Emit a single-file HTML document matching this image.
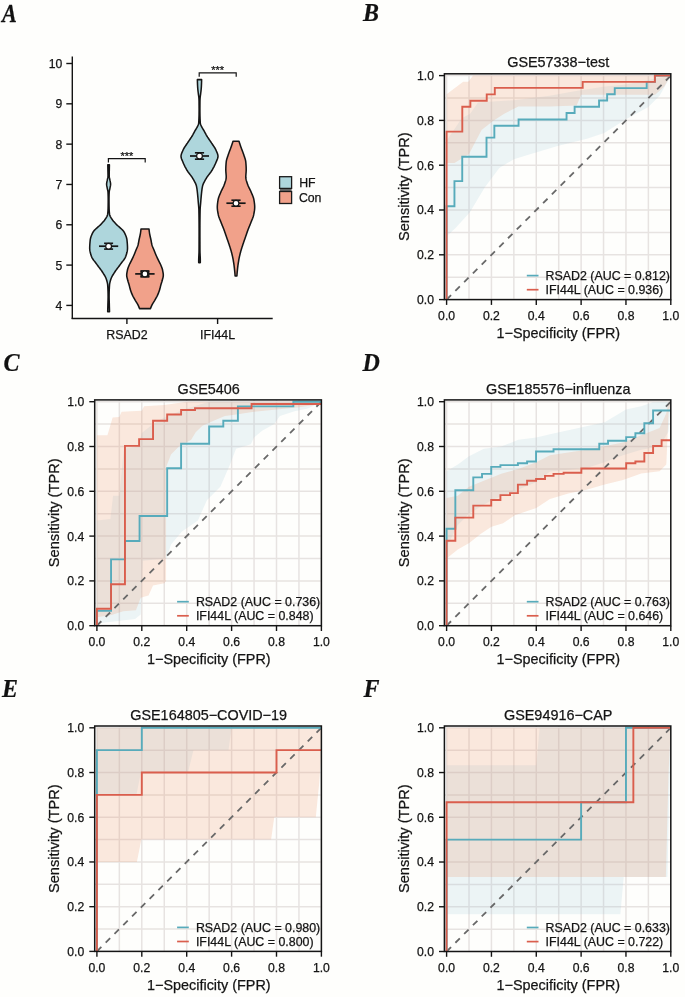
<!DOCTYPE html><html><head><meta charset="utf-8"><style>html,body{margin:0;padding:0;background:#fefefc;overflow:hidden}svg{display:block;filter:blur(0.35px)} text{stroke:#141414;stroke-width:0.25px}</style></head><body><svg width="685" height="997" viewBox="0 0 685 997">
<rect width="685" height="997" fill="#fefefc"/>
<text transform="translate(2,21.6) scale(0.87,1)" font-family='"Liberation Serif", serif' font-weight="bold" font-style="italic" font-size="25.5" fill="#111">A</text>
<line x1="72.3" y1="56.5" x2="72.3" y2="319.1" stroke="#141414" stroke-width="1.4"/>
<line x1="71.65" y1="318.45" x2="272.7" y2="318.45" stroke="#141414" stroke-width="1.4"/>
<line x1="66.3" y1="305.42" x2="72.3" y2="305.42" stroke="#141414" stroke-width="1.4"/>
<text x="62.3" y="309.82" font-family='"Liberation Sans", sans-serif' font-size="12.2" fill="#141414" text-anchor="end">4</text>
<line x1="66.3" y1="265.1" x2="72.3" y2="265.1" stroke="#141414" stroke-width="1.4"/>
<text x="62.3" y="269.5" font-family='"Liberation Sans", sans-serif' font-size="12.2" fill="#141414" text-anchor="end">5</text>
<line x1="66.3" y1="224.78" x2="72.3" y2="224.78" stroke="#141414" stroke-width="1.4"/>
<text x="62.3" y="229.18" font-family='"Liberation Sans", sans-serif' font-size="12.2" fill="#141414" text-anchor="end">6</text>
<line x1="66.3" y1="184.46" x2="72.3" y2="184.46" stroke="#141414" stroke-width="1.4"/>
<text x="62.3" y="188.86" font-family='"Liberation Sans", sans-serif' font-size="12.2" fill="#141414" text-anchor="end">7</text>
<line x1="66.3" y1="144.14" x2="72.3" y2="144.14" stroke="#141414" stroke-width="1.4"/>
<text x="62.3" y="148.54" font-family='"Liberation Sans", sans-serif' font-size="12.2" fill="#141414" text-anchor="end">8</text>
<line x1="66.3" y1="103.82" x2="72.3" y2="103.82" stroke="#141414" stroke-width="1.4"/>
<text x="62.3" y="108.22" font-family='"Liberation Sans", sans-serif' font-size="12.2" fill="#141414" text-anchor="end">9</text>
<line x1="66.3" y1="63.5" x2="72.3" y2="63.5" stroke="#141414" stroke-width="1.4"/>
<text x="62.3" y="67.9" font-family='"Liberation Sans", sans-serif' font-size="12.2" fill="#141414" text-anchor="end">10</text>
<line x1="126.9" y1="318.45" x2="126.9" y2="324" stroke="#141414" stroke-width="1.4"/>
<text x="126.9" y="338.7" font-family='"Liberation Sans", sans-serif' font-size="12.4" fill="#141414" text-anchor="middle">RSAD2</text>
<line x1="217.6" y1="318.45" x2="217.6" y2="324" stroke="#141414" stroke-width="1.4"/>
<text x="217.6" y="338.7" font-family='"Liberation Sans", sans-serif' font-size="12.4" fill="#141414" text-anchor="middle">IFI44L</text>
<path d="M109.4,164.8 L109.38,165.72 L109.36,166.65 L109.34,167.57 L109.32,168.5 L109.3,169.42 L109.29,170.34 L109.27,171.27 L109.25,172.19 L109.23,173.12 L109.21,174.04 L109.2,174.96 L109.2,175.89 L109.25,176.81 L109.41,177.73 L109.61,178.66 L109.82,179.58 L110,180.51 L110.2,181.43 L110.4,182.35 L110.55,183.28 L110.6,184.2 L110.53,185.13 L110.38,186.05 L110.2,186.97 L110.02,187.9 L109.83,188.82 L109.61,189.75 L109.4,190.67 L109.24,191.59 L109.18,192.52 L109.14,193.44 L109.1,194.36 L109.07,195.29 L109.05,196.21 L109.03,197.14 L109.01,198.06 L109,198.98 L109,199.91 L109,200.83 L109.01,201.76 L109.01,202.68 L109.02,203.6 L109.03,204.53 L109.05,205.45 L109.06,206.38 L109.08,207.3 L109.1,208.22 L109.13,209.15 L109.17,210.07 L109.23,210.99 L109.3,211.92 L109.39,212.84 L109.49,213.77 L109.61,214.69 L109.87,215.61 L110.29,216.54 L110.83,217.46 L111.43,218.39 L112.04,219.31 L112.69,220.23 L113.43,221.16 L114.24,222.08 L115.09,223.01 L115.95,223.93 L116.83,224.85 L117.81,225.78 L118.86,226.7 L119.93,227.63 L120.99,228.55 L121.99,229.47 L122.89,230.4 L123.65,231.32 L124.22,232.24 L124.69,233.17 L125.13,234.09 L125.54,235.02 L125.92,235.94 L126.25,236.86 L126.53,237.79 L126.76,238.71 L126.93,239.64 L127.04,240.56 L127.13,241.48 L127.21,242.41 L127.29,243.33 L127.36,244.26 L127.41,245.18 L127.46,246.1 L127.48,247.03 L127.5,247.95 L127.49,248.87 L127.42,249.8 L127.29,250.72 L127.12,251.65 L126.91,252.57 L126.66,253.49 L126.39,254.42 L126.11,255.34 L125.81,256.27 L125.45,257.19 L124.96,258.11 L124.38,259.04 L123.73,259.96 L123.03,260.89 L122.3,261.81 L121.57,262.73 L120.86,263.66 L120.2,264.58 L119.53,265.51 L118.84,266.43 L118.14,267.35 L117.44,268.28 L116.75,269.2 L116.07,270.12 L115.42,271.05 L114.81,271.97 L114.22,272.9 L113.63,273.82 L113.05,274.74 L112.49,275.67 L111.97,276.59 L111.51,277.52 L111.13,278.44 L110.82,279.36 L110.52,280.29 L110.25,281.21 L110.01,282.14 L109.8,283.06 L109.63,283.98 L109.52,284.91 L109.46,285.83 L109.4,286.75 L109.35,287.68 L109.3,288.6 L109.26,289.53 L109.22,290.45 L109.19,291.37 L109.16,292.3 L109.14,293.22 L109.12,294.15 L109.11,295.07 L109.1,295.99 L109.1,296.92 L109.11,297.84 L109.13,298.77 L109.15,299.69 L109.18,300.61 L109.21,301.54 L109.24,302.46 L109.27,303.38 L109.3,304.31 L109.32,305.23 L109.35,306.16 L109.37,307.08 L109.4,308 L109.42,308.93 L109.45,309.85 L109.47,310.78 L109.5,311.7 L107.7,311.7 L107.73,310.78 L107.75,309.85 L107.78,308.93 L107.8,308 L107.83,307.08 L107.85,306.16 L107.88,305.23 L107.9,304.31 L107.93,303.38 L107.96,302.46 L107.99,301.54 L108.02,300.61 L108.05,299.69 L108.07,298.77 L108.09,297.84 L108.1,296.92 L108.1,295.99 L108.09,295.07 L108.08,294.15 L108.06,293.22 L108.04,292.3 L108.01,291.37 L107.98,290.45 L107.94,289.53 L107.9,288.6 L107.85,287.68 L107.8,286.75 L107.74,285.83 L107.68,284.91 L107.57,283.98 L107.4,283.06 L107.19,282.14 L106.95,281.21 L106.68,280.29 L106.38,279.36 L106.07,278.44 L105.69,277.52 L105.23,276.59 L104.71,275.67 L104.15,274.74 L103.57,273.82 L102.98,272.9 L102.39,271.97 L101.78,271.05 L101.13,270.12 L100.45,269.2 L99.76,268.28 L99.06,267.35 L98.36,266.43 L97.67,265.51 L97,264.58 L96.34,263.66 L95.63,262.73 L94.9,261.81 L94.17,260.89 L93.47,259.96 L92.82,259.04 L92.24,258.11 L91.75,257.19 L91.39,256.27 L91.09,255.34 L90.81,254.42 L90.54,253.49 L90.29,252.57 L90.08,251.65 L89.91,250.72 L89.78,249.8 L89.71,248.87 L89.7,247.95 L89.72,247.03 L89.74,246.1 L89.79,245.18 L89.84,244.26 L89.91,243.33 L89.99,242.41 L90.07,241.48 L90.16,240.56 L90.27,239.64 L90.44,238.71 L90.67,237.79 L90.95,236.86 L91.28,235.94 L91.66,235.02 L92.07,234.09 L92.51,233.17 L92.98,232.24 L93.55,231.32 L94.31,230.4 L95.21,229.47 L96.21,228.55 L97.27,227.63 L98.34,226.7 L99.39,225.78 L100.37,224.85 L101.25,223.93 L102.11,223.01 L102.96,222.08 L103.77,221.16 L104.51,220.23 L105.16,219.31 L105.77,218.39 L106.37,217.46 L106.91,216.54 L107.33,215.61 L107.59,214.69 L107.71,213.77 L107.81,212.84 L107.9,211.92 L107.97,210.99 L108.03,210.07 L108.07,209.15 L108.1,208.22 L108.12,207.3 L108.14,206.38 L108.15,205.45 L108.17,204.53 L108.18,203.6 L108.19,202.68 L108.19,201.76 L108.2,200.83 L108.2,199.91 L108.2,198.98 L108.19,198.06 L108.17,197.14 L108.15,196.21 L108.13,195.29 L108.1,194.36 L108.06,193.44 L108.02,192.52 L107.96,191.59 L107.8,190.67 L107.59,189.75 L107.37,188.82 L107.18,187.9 L107,186.97 L106.82,186.05 L106.67,185.13 L106.6,184.2 L106.65,183.28 L106.8,182.35 L107,181.43 L107.2,180.51 L107.38,179.58 L107.59,178.66 L107.79,177.73 L107.95,176.81 L108,175.89 L108,174.96 L107.99,174.04 L107.97,173.12 L107.95,172.19 L107.93,171.27 L107.91,170.34 L107.9,169.42 L107.88,168.5 L107.86,167.57 L107.84,166.65 L107.82,165.72 L107.8,164.8Z" fill="#aed6dc" stroke="#151515" stroke-width="1.55" stroke-linejoin="round"/>
<path d="M149,229 L149.05,229.5 L149.1,230 L149.16,230.5 L149.22,231 L149.29,231.5 L149.35,232 L149.43,232.5 L149.5,233.01 L149.58,233.51 L149.67,234.01 L149.77,234.51 L149.87,235.01 L149.97,235.51 L150.08,236.01 L150.19,236.51 L150.31,237.01 L150.42,237.51 L150.54,238.01 L150.65,238.51 L150.77,239.01 L150.88,239.51 L150.98,240.01 L151.08,240.51 L151.18,241.02 L151.27,241.52 L151.36,242.02 L151.45,242.52 L151.54,243.02 L151.64,243.52 L151.74,244.02 L151.85,244.52 L151.98,245.02 L152.12,245.52 L152.29,246.02 L152.47,246.52 L152.67,247.02 L152.88,247.52 L153.1,248.02 L153.32,248.52 L153.55,249.03 L153.76,249.53 L153.97,250.03 L154.17,250.53 L154.37,251.03 L154.56,251.53 L154.75,252.03 L154.95,252.53 L155.15,253.03 L155.35,253.53 L155.55,254.03 L155.76,254.53 L155.97,255.03 L156.19,255.53 L156.42,256.03 L156.66,256.53 L156.9,257.04 L157.14,257.54 L157.39,258.04 L157.64,258.54 L157.88,259.04 L158.13,259.54 L158.37,260.04 L158.61,260.54 L158.86,261.04 L159.11,261.54 L159.37,262.04 L159.62,262.54 L159.86,263.04 L160.11,263.54 L160.34,264.04 L160.57,264.54 L160.78,265.05 L160.98,265.55 L161.19,266.05 L161.4,266.55 L161.6,267.05 L161.79,267.55 L161.98,268.05 L162.15,268.55 L162.31,269.05 L162.45,269.55 L162.57,270.05 L162.67,270.55 L162.77,271.05 L162.87,271.55 L162.96,272.05 L163.05,272.55 L163.13,273.06 L163.2,273.56 L163.25,274.06 L163.28,274.56 L163.3,275.06 L163.29,275.56 L163.25,276.06 L163.18,276.56 L163.09,277.06 L162.98,277.56 L162.86,278.06 L162.73,278.56 L162.59,279.06 L162.46,279.56 L162.33,280.06 L162.21,280.56 L162.07,281.07 L161.93,281.57 L161.77,282.07 L161.62,282.57 L161.46,283.07 L161.3,283.57 L161.14,284.07 L160.98,284.57 L160.84,285.07 L160.7,285.57 L160.57,286.07 L160.44,286.57 L160.32,287.07 L160.2,287.57 L160.08,288.07 L159.96,288.57 L159.83,289.08 L159.69,289.58 L159.54,290.08 L159.38,290.58 L159.21,291.08 L159.03,291.58 L158.84,292.08 L158.64,292.58 L158.43,293.08 L158.22,293.58 L158,294.08 L157.78,294.58 L157.55,295.08 L157.32,295.58 L157.07,296.08 L156.82,296.58 L156.55,297.09 L156.28,297.59 L156,298.09 L155.72,298.59 L155.43,299.09 L155.15,299.59 L154.86,300.09 L154.58,300.59 L154.28,301.09 L153.97,301.59 L153.65,302.09 L153.34,302.59 L153.02,303.09 L152.72,303.59 L152.43,304.09 L152.15,304.59 L151.9,305.1 L151.66,305.6 L151.44,306.1 L151.23,306.6 L151.03,307.1 L150.84,307.6 L150.67,308.1 L150.5,308.6 L139.5,308.6 L139.33,308.1 L139.16,307.6 L138.97,307.1 L138.77,306.6 L138.56,306.1 L138.34,305.6 L138.1,305.1 L137.85,304.59 L137.57,304.09 L137.28,303.59 L136.98,303.09 L136.66,302.59 L136.35,302.09 L136.03,301.59 L135.72,301.09 L135.42,300.59 L135.14,300.09 L134.85,299.59 L134.57,299.09 L134.28,298.59 L134,298.09 L133.72,297.59 L133.45,297.09 L133.18,296.58 L132.93,296.08 L132.68,295.58 L132.45,295.08 L132.22,294.58 L132,294.08 L131.78,293.58 L131.57,293.08 L131.36,292.58 L131.16,292.08 L130.97,291.58 L130.79,291.08 L130.62,290.58 L130.46,290.08 L130.31,289.58 L130.17,289.08 L130.04,288.57 L129.92,288.07 L129.8,287.57 L129.68,287.07 L129.56,286.57 L129.43,286.07 L129.3,285.57 L129.16,285.07 L129.02,284.57 L128.86,284.07 L128.7,283.57 L128.54,283.07 L128.38,282.57 L128.23,282.07 L128.07,281.57 L127.93,281.07 L127.79,280.56 L127.67,280.06 L127.54,279.56 L127.41,279.06 L127.27,278.56 L127.14,278.06 L127.02,277.56 L126.91,277.06 L126.82,276.56 L126.75,276.06 L126.71,275.56 L126.7,275.06 L126.72,274.56 L126.75,274.06 L126.8,273.56 L126.87,273.06 L126.95,272.55 L127.04,272.05 L127.13,271.55 L127.23,271.05 L127.33,270.55 L127.43,270.05 L127.55,269.55 L127.69,269.05 L127.85,268.55 L128.02,268.05 L128.21,267.55 L128.4,267.05 L128.6,266.55 L128.81,266.05 L129.02,265.55 L129.22,265.05 L129.43,264.54 L129.66,264.04 L129.89,263.54 L130.14,263.04 L130.38,262.54 L130.63,262.04 L130.89,261.54 L131.14,261.04 L131.39,260.54 L131.63,260.04 L131.87,259.54 L132.12,259.04 L132.36,258.54 L132.61,258.04 L132.86,257.54 L133.1,257.04 L133.34,256.53 L133.58,256.03 L133.81,255.53 L134.03,255.03 L134.24,254.53 L134.45,254.03 L134.65,253.53 L134.85,253.03 L135.05,252.53 L135.25,252.03 L135.44,251.53 L135.63,251.03 L135.83,250.53 L136.03,250.03 L136.24,249.53 L136.45,249.03 L136.68,248.52 L136.9,248.02 L137.12,247.52 L137.33,247.02 L137.53,246.52 L137.71,246.02 L137.88,245.52 L138.02,245.02 L138.15,244.52 L138.26,244.02 L138.36,243.52 L138.46,243.02 L138.55,242.52 L138.64,242.02 L138.73,241.52 L138.82,241.02 L138.92,240.51 L139.02,240.01 L139.12,239.51 L139.23,239.01 L139.35,238.51 L139.46,238.01 L139.58,237.51 L139.69,237.01 L139.81,236.51 L139.92,236.01 L140.03,235.51 L140.13,235.01 L140.23,234.51 L140.33,234.01 L140.42,233.51 L140.5,233.01 L140.57,232.5 L140.65,232 L140.71,231.5 L140.78,231 L140.84,230.5 L140.9,230 L140.95,229.5 L141,229Z" fill="#f1a18a" stroke="#151515" stroke-width="1.55" stroke-linejoin="round"/>
<path d="M201.6,79.6 L201.59,80.75 L201.56,81.9 L201.52,83.05 L201.48,84.2 L201.43,85.35 L201.37,86.51 L201.3,87.66 L201.21,88.81 L201.1,89.96 L200.98,91.11 L200.84,92.26 L200.69,93.41 L200.54,94.56 L200.37,95.71 L200.21,96.86 L200.1,98.02 L200.03,99.17 L199.98,100.32 L199.95,101.47 L199.94,102.62 L199.93,103.77 L199.92,104.92 L199.91,106.07 L199.91,107.22 L199.9,108.37 L199.9,109.52 L199.9,110.68 L199.91,111.83 L199.92,112.98 L199.93,114.13 L199.95,115.28 L199.98,116.43 L200.02,117.58 L200.06,118.73 L200.11,119.88 L200.17,121.03 L200.24,122.18 L200.31,123.34 L200.6,124.49 L201.12,125.64 L201.7,126.79 L202.29,127.94 L202.99,129.09 L203.69,130.24 L204.34,131.39 L204.97,132.54 L205.58,133.69 L206.21,134.85 L206.88,136 L207.59,137.15 L208.35,138.3 L209.14,139.45 L209.93,140.6 L210.71,141.75 L211.46,142.9 L212.25,144.05 L213.04,145.2 L213.83,146.35 L214.57,147.51 L215.24,148.66 L215.83,149.81 L216.33,150.96 L216.85,152.11 L217.33,153.26 L217.71,154.41 L217.95,155.56 L217.98,156.71 L217.78,157.86 L217.41,159.02 L216.93,160.17 L216.42,161.32 L215.93,162.47 L215.45,163.62 L214.93,164.77 L214.38,165.92 L213.8,167.07 L213.18,168.22 L212.54,169.37 L211.87,170.52 L211.11,171.68 L210.27,172.83 L209.38,173.98 L208.49,175.13 L207.63,176.28 L206.83,177.43 L206.14,178.58 L205.47,179.73 L204.81,180.88 L204.18,182.03 L203.6,183.18 L203.1,184.34 L202.71,185.49 L202.43,186.64 L202.22,187.79 L202.03,188.94 L201.88,190.09 L201.74,191.24 L201.61,192.39 L201.49,193.54 L201.37,194.69 L201.25,195.85 L201.15,197 L201.05,198.15 L200.95,199.3 L200.86,200.45 L200.76,201.6 L200.67,202.75 L200.57,203.9 L200.46,205.05 L200.36,206.2 L200.26,207.35 L200.18,208.51 L200.12,209.66 L200.09,210.81 L200.07,211.96 L200.05,213.11 L200.03,214.26 L200.01,215.41 L200,216.56 L199.98,217.71 L199.97,218.86 L199.95,220.02 L199.94,221.17 L199.93,222.32 L199.92,223.47 L199.92,224.62 L199.91,225.77 L199.91,226.92 L199.9,228.07 L199.9,229.22 L199.9,230.37 L199.9,231.52 L199.9,232.68 L199.9,233.83 L199.9,234.98 L199.9,236.13 L199.91,237.28 L199.91,238.43 L199.91,239.58 L199.91,240.73 L199.92,241.88 L199.92,243.03 L199.92,244.18 L199.93,245.34 L199.93,246.49 L199.94,247.64 L199.94,248.79 L199.95,249.94 L199.96,251.09 L199.98,252.24 L200.03,253.39 L200.08,254.54 L200.14,255.69 L200.2,256.85 L200.24,258 L200.28,259.15 L200.3,260.3 L200.3,261.45 L200.3,262.6 L198.7,262.6 L198.7,261.45 L198.7,260.3 L198.72,259.15 L198.76,258 L198.8,256.85 L198.86,255.69 L198.92,254.54 L198.97,253.39 L199.02,252.24 L199.04,251.09 L199.05,249.94 L199.06,248.79 L199.06,247.64 L199.07,246.49 L199.07,245.34 L199.08,244.18 L199.08,243.03 L199.08,241.88 L199.09,240.73 L199.09,239.58 L199.09,238.43 L199.09,237.28 L199.1,236.13 L199.1,234.98 L199.1,233.83 L199.1,232.68 L199.1,231.52 L199.1,230.37 L199.1,229.22 L199.1,228.07 L199.09,226.92 L199.09,225.77 L199.08,224.62 L199.08,223.47 L199.07,222.32 L199.06,221.17 L199.05,220.02 L199.03,218.86 L199.02,217.71 L199,216.56 L198.99,215.41 L198.97,214.26 L198.95,213.11 L198.93,211.96 L198.91,210.81 L198.88,209.66 L198.82,208.51 L198.74,207.35 L198.64,206.2 L198.54,205.05 L198.43,203.9 L198.33,202.75 L198.24,201.6 L198.14,200.45 L198.05,199.3 L197.95,198.15 L197.85,197 L197.75,195.85 L197.63,194.69 L197.51,193.54 L197.39,192.39 L197.26,191.24 L197.12,190.09 L196.97,188.94 L196.78,187.79 L196.57,186.64 L196.29,185.49 L195.9,184.34 L195.4,183.18 L194.82,182.03 L194.19,180.88 L193.53,179.73 L192.86,178.58 L192.17,177.43 L191.37,176.28 L190.51,175.13 L189.62,173.98 L188.73,172.83 L187.89,171.68 L187.13,170.52 L186.46,169.37 L185.82,168.22 L185.2,167.07 L184.62,165.92 L184.07,164.77 L183.55,163.62 L183.07,162.47 L182.58,161.32 L182.07,160.17 L181.59,159.02 L181.22,157.86 L181.02,156.71 L181.05,155.56 L181.29,154.41 L181.67,153.26 L182.15,152.11 L182.67,150.96 L183.17,149.81 L183.76,148.66 L184.43,147.51 L185.17,146.35 L185.96,145.2 L186.75,144.05 L187.54,142.9 L188.29,141.75 L189.07,140.6 L189.86,139.45 L190.65,138.3 L191.41,137.15 L192.12,136 L192.79,134.85 L193.42,133.69 L194.03,132.54 L194.66,131.39 L195.31,130.24 L196.01,129.09 L196.71,127.94 L197.3,126.79 L197.88,125.64 L198.4,124.49 L198.69,123.34 L198.76,122.18 L198.83,121.03 L198.89,119.88 L198.94,118.73 L198.98,117.58 L199.02,116.43 L199.05,115.28 L199.07,114.13 L199.08,112.98 L199.09,111.83 L199.1,110.68 L199.1,109.52 L199.1,108.37 L199.09,107.22 L199.09,106.07 L199.08,104.92 L199.07,103.77 L199.06,102.62 L199.05,101.47 L199.02,100.32 L198.97,99.17 L198.9,98.02 L198.79,96.86 L198.63,95.71 L198.46,94.56 L198.31,93.41 L198.16,92.26 L198.02,91.11 L197.9,89.96 L197.79,88.81 L197.7,87.66 L197.63,86.51 L197.57,85.35 L197.52,84.2 L197.48,83.05 L197.44,81.9 L197.41,80.75 L197.4,79.6Z" fill="#aed6dc" stroke="#151515" stroke-width="1.55" stroke-linejoin="round"/>
<path d="M239,141.3 L239.27,142.15 L239.55,142.99 L239.82,143.84 L240.11,144.69 L240.39,145.53 L240.68,146.38 L240.98,147.23 L241.29,148.07 L241.6,148.92 L241.93,149.77 L242.26,150.61 L242.58,151.46 L242.9,152.31 L243.21,153.15 L243.5,154 L243.78,154.84 L244.06,155.69 L244.35,156.54 L244.65,157.38 L244.93,158.23 L245.19,159.08 L245.42,159.92 L245.61,160.77 L245.75,161.62 L245.83,162.46 L245.9,163.31 L245.97,164.16 L246.03,165 L246.08,165.85 L246.13,166.7 L246.16,167.54 L246.19,168.39 L246.2,169.24 L246.2,170.08 L246.17,170.93 L246.12,171.78 L246.06,172.62 L245.99,173.47 L245.92,174.32 L245.87,175.16 L245.82,176.01 L245.8,176.85 L245.82,177.7 L245.91,178.55 L246.07,179.39 L246.27,180.24 L246.52,181.09 L246.79,181.93 L247.08,182.78 L247.37,183.63 L247.66,184.47 L247.96,185.32 L248.3,186.17 L248.69,187.01 L249.1,187.86 L249.53,188.71 L249.96,189.55 L250.39,190.4 L250.79,191.25 L251.16,192.09 L251.51,192.94 L251.87,193.79 L252.23,194.63 L252.58,195.48 L252.92,196.33 L253.23,197.17 L253.51,198.02 L253.73,198.86 L253.9,199.71 L254.04,200.56 L254.17,201.4 L254.3,202.25 L254.41,203.1 L254.51,203.94 L254.59,204.79 L254.65,205.64 L254.69,206.48 L254.7,207.33 L254.67,208.18 L254.62,209.02 L254.53,209.87 L254.42,210.72 L254.28,211.56 L254.14,212.41 L253.98,213.26 L253.82,214.1 L253.65,214.95 L253.44,215.8 L253.19,216.64 L252.9,217.49 L252.59,218.34 L252.25,219.18 L251.91,220.03 L251.56,220.87 L251.22,221.72 L250.9,222.57 L250.57,223.41 L250.23,224.26 L249.88,225.11 L249.53,225.95 L249.19,226.8 L248.84,227.65 L248.5,228.49 L248.17,229.34 L247.86,230.19 L247.55,231.03 L247.25,231.88 L246.96,232.73 L246.67,233.57 L246.38,234.42 L246.1,235.27 L245.81,236.11 L245.52,236.96 L245.22,237.81 L244.93,238.65 L244.63,239.5 L244.33,240.35 L244.03,241.19 L243.73,242.04 L243.44,242.88 L243.15,243.73 L242.87,244.58 L242.6,245.42 L242.32,246.27 L242.04,247.12 L241.77,247.96 L241.51,248.81 L241.25,249.66 L240.99,250.5 L240.75,251.35 L240.53,252.2 L240.31,253.04 L240.1,253.89 L239.89,254.74 L239.69,255.58 L239.5,256.43 L239.31,257.28 L239.14,258.12 L238.97,258.97 L238.81,259.82 L238.67,260.66 L238.53,261.51 L238.39,262.36 L238.26,263.2 L238.13,264.05 L238.02,264.89 L237.9,265.74 L237.8,266.59 L237.7,267.43 L237.6,268.28 L237.51,269.13 L237.42,269.97 L237.33,270.82 L237.25,271.67 L237.17,272.51 L237.09,273.36 L237.02,274.21 L236.96,275.05 L236.9,275.9 L235.1,275.9 L235.04,275.05 L234.98,274.21 L234.91,273.36 L234.83,272.51 L234.75,271.67 L234.67,270.82 L234.58,269.97 L234.49,269.13 L234.4,268.28 L234.3,267.43 L234.2,266.59 L234.1,265.74 L233.98,264.89 L233.87,264.05 L233.74,263.2 L233.61,262.36 L233.47,261.51 L233.33,260.66 L233.19,259.82 L233.03,258.97 L232.86,258.12 L232.69,257.28 L232.5,256.43 L232.31,255.58 L232.11,254.74 L231.9,253.89 L231.69,253.04 L231.47,252.2 L231.25,251.35 L231.01,250.5 L230.75,249.66 L230.49,248.81 L230.23,247.96 L229.96,247.12 L229.68,246.27 L229.4,245.42 L229.13,244.58 L228.85,243.73 L228.56,242.88 L228.27,242.04 L227.97,241.19 L227.67,240.35 L227.37,239.5 L227.07,238.65 L226.78,237.81 L226.48,236.96 L226.19,236.11 L225.9,235.27 L225.62,234.42 L225.33,233.57 L225.04,232.73 L224.75,231.88 L224.45,231.03 L224.14,230.19 L223.83,229.34 L223.5,228.49 L223.16,227.65 L222.81,226.8 L222.47,225.95 L222.12,225.11 L221.77,224.26 L221.43,223.41 L221.1,222.57 L220.78,221.72 L220.44,220.87 L220.09,220.03 L219.75,219.18 L219.41,218.34 L219.1,217.49 L218.81,216.64 L218.56,215.8 L218.35,214.95 L218.18,214.1 L218.02,213.26 L217.86,212.41 L217.72,211.56 L217.58,210.72 L217.47,209.87 L217.38,209.02 L217.33,208.18 L217.3,207.33 L217.31,206.48 L217.35,205.64 L217.41,204.79 L217.49,203.94 L217.59,203.1 L217.7,202.25 L217.83,201.4 L217.96,200.56 L218.1,199.71 L218.27,198.86 L218.49,198.02 L218.77,197.17 L219.08,196.33 L219.42,195.48 L219.77,194.63 L220.13,193.79 L220.49,192.94 L220.84,192.09 L221.21,191.25 L221.61,190.4 L222.04,189.55 L222.47,188.71 L222.9,187.86 L223.31,187.01 L223.7,186.17 L224.04,185.32 L224.34,184.47 L224.63,183.63 L224.92,182.78 L225.21,181.93 L225.48,181.09 L225.73,180.24 L225.93,179.39 L226.09,178.55 L226.18,177.7 L226.2,176.85 L226.18,176.01 L226.13,175.16 L226.08,174.32 L226.01,173.47 L225.94,172.62 L225.88,171.78 L225.83,170.93 L225.8,170.08 L225.8,169.24 L225.81,168.39 L225.84,167.54 L225.87,166.7 L225.92,165.85 L225.97,165 L226.03,164.16 L226.1,163.31 L226.17,162.46 L226.25,161.62 L226.39,160.77 L226.58,159.92 L226.81,159.08 L227.07,158.23 L227.35,157.38 L227.65,156.54 L227.94,155.69 L228.22,154.84 L228.5,154 L228.79,153.15 L229.1,152.31 L229.42,151.46 L229.74,150.61 L230.07,149.77 L230.4,148.92 L230.71,148.07 L231.02,147.23 L231.32,146.38 L231.61,145.53 L231.89,144.69 L232.18,143.84 L232.45,142.99 L232.73,142.15 L233,141.3Z" fill="#f1a18a" stroke="#151515" stroke-width="1.55" stroke-linejoin="round"/>
<line x1="99" y1="246.2" x2="118.2" y2="246.2" stroke="#151515" stroke-width="1.7"/>
<line x1="104.1" y1="243.3" x2="113.1" y2="243.3" stroke="#151515" stroke-width="1.6"/>
<line x1="104.1" y1="249.1" x2="113.1" y2="249.1" stroke="#151515" stroke-width="1.6"/>
<line x1="108.6" y1="243.3" x2="108.6" y2="249.1" stroke="#151515" stroke-width="1.6"/>
<circle cx="108.6" cy="246.2" r="2.9" fill="#fff" stroke="#151515" stroke-width="1.2"/>
<line x1="135.2" y1="273.9" x2="154.6" y2="273.9" stroke="#151515" stroke-width="1.7"/>
<rect x="140.4" y="270.9" width="9" height="6" fill="#1a1a1a"/>
<line x1="140.4" y1="270.9" x2="149.4" y2="270.9" stroke="#151515" stroke-width="1.6"/>
<line x1="140.4" y1="276.9" x2="149.4" y2="276.9" stroke="#151515" stroke-width="1.6"/>
<line x1="144.9" y1="270.9" x2="144.9" y2="276.9" stroke="#151515" stroke-width="1.6"/>
<circle cx="144.9" cy="273.9" r="2.9" fill="#fff" stroke="#151515" stroke-width="1.2"/>
<line x1="190" y1="156" x2="209" y2="156" stroke="#151515" stroke-width="1.7"/>
<line x1="194.9" y1="152.8" x2="204.1" y2="152.8" stroke="#151515" stroke-width="1.6"/>
<line x1="194.9" y1="159.2" x2="204.1" y2="159.2" stroke="#151515" stroke-width="1.6"/>
<line x1="199.5" y1="152.8" x2="199.5" y2="159.2" stroke="#151515" stroke-width="1.6"/>
<circle cx="199.5" cy="156" r="2.9" fill="#fff" stroke="#151515" stroke-width="1.2"/>
<line x1="226.4" y1="203.2" x2="245.6" y2="203.2" stroke="#151515" stroke-width="1.7"/>
<line x1="231.4" y1="200.2" x2="240.6" y2="200.2" stroke="#151515" stroke-width="1.6"/>
<line x1="231.4" y1="206.2" x2="240.6" y2="206.2" stroke="#151515" stroke-width="1.6"/>
<line x1="236" y1="200.2" x2="236" y2="206.2" stroke="#151515" stroke-width="1.6"/>
<circle cx="236" cy="203.2" r="2.9" fill="#fff" stroke="#151515" stroke-width="1.2"/>
<path d="M108.4,162.4 L108.4,158.7 L145.2,158.7 L145.2,162.4" fill="none" stroke="#141414" stroke-width="1.2"/>
<text x="126.8" y="159.9" font-family='"Liberation Sans", sans-serif' font-size="11" fill="#141414" text-anchor="middle">***</text>
<path d="M199.2,76.7 L199.2,72.9 L236.2,72.9 L236.2,76.7" fill="none" stroke="#141414" stroke-width="1.2"/>
<text x="217.7" y="74.1" font-family='"Liberation Sans", sans-serif' font-size="11" fill="#141414" text-anchor="middle">***</text>
<rect x="279.8" y="188.6" width="11.8" height="2.6" fill="#666"/>
<rect x="279.6" y="176.7" width="12.0" height="11.7" fill="#aed6dc" stroke="#1a1a1a" stroke-width="1.3"/>
<rect x="279.6" y="191.5" width="12.0" height="12.0" fill="#f1a18a" stroke="#1a1a1a" stroke-width="1.3"/>
<text x="299.2" y="186.9" font-family='"Liberation Sans", sans-serif' font-size="12.3" fill="#141414">HF</text>
<text x="298.9" y="201.6" font-family='"Liberation Sans", sans-serif' font-size="12.3" fill="#141414">Con</text>
<text transform="translate(363,21.2) scale(0.94,1)" font-family='"Liberation Serif", serif' font-weight="bold" font-style="italic" font-size="25.5" fill="#111">B</text>
<clipPath id="clipB"><rect x="444.4" y="73.8" width="226.4" height="225.8"/></clipPath>
<g clip-path="url(#clipB)">
<line x1="446.6" y1="73.8" x2="446.6" y2="299.6" stroke="#e7e3e1" stroke-width="1.5"/>
<line x1="444.4" y1="299.6" x2="670.8" y2="299.6" stroke="#e7e3e1" stroke-width="1.5"/>
<line x1="469.02" y1="73.8" x2="469.02" y2="299.6" stroke="#e7e3e1" stroke-width="1.5"/>
<line x1="444.4" y1="277.2" x2="670.8" y2="277.2" stroke="#e7e3e1" stroke-width="1.5"/>
<line x1="491.44" y1="73.8" x2="491.44" y2="299.6" stroke="#e7e3e1" stroke-width="1.5"/>
<line x1="444.4" y1="254.8" x2="670.8" y2="254.8" stroke="#e7e3e1" stroke-width="1.5"/>
<line x1="513.86" y1="73.8" x2="513.86" y2="299.6" stroke="#e7e3e1" stroke-width="1.5"/>
<line x1="444.4" y1="232.4" x2="670.8" y2="232.4" stroke="#e7e3e1" stroke-width="1.5"/>
<line x1="536.28" y1="73.8" x2="536.28" y2="299.6" stroke="#e7e3e1" stroke-width="1.5"/>
<line x1="444.4" y1="210" x2="670.8" y2="210" stroke="#e7e3e1" stroke-width="1.5"/>
<line x1="558.7" y1="73.8" x2="558.7" y2="299.6" stroke="#e7e3e1" stroke-width="1.5"/>
<line x1="444.4" y1="187.6" x2="670.8" y2="187.6" stroke="#e7e3e1" stroke-width="1.5"/>
<line x1="581.12" y1="73.8" x2="581.12" y2="299.6" stroke="#e7e3e1" stroke-width="1.5"/>
<line x1="444.4" y1="165.2" x2="670.8" y2="165.2" stroke="#e7e3e1" stroke-width="1.5"/>
<line x1="603.54" y1="73.8" x2="603.54" y2="299.6" stroke="#e7e3e1" stroke-width="1.5"/>
<line x1="444.4" y1="142.8" x2="670.8" y2="142.8" stroke="#e7e3e1" stroke-width="1.5"/>
<line x1="625.96" y1="73.8" x2="625.96" y2="299.6" stroke="#e7e3e1" stroke-width="1.5"/>
<line x1="444.4" y1="120.4" x2="670.8" y2="120.4" stroke="#e7e3e1" stroke-width="1.5"/>
<line x1="648.38" y1="73.8" x2="648.38" y2="299.6" stroke="#e7e3e1" stroke-width="1.5"/>
<line x1="444.4" y1="98" x2="670.8" y2="98" stroke="#e7e3e1" stroke-width="1.5"/>
<line x1="670.8" y1="73.8" x2="670.8" y2="299.6" stroke="#e7e3e1" stroke-width="1.5"/>
<line x1="444.4" y1="75.6" x2="670.8" y2="75.6" stroke="#e7e3e1" stroke-width="1.5"/>
<path d="M446.6,140.56 L461.85,118.16 L470.14,113.68 L477.99,102.48 L513.86,100.24 L549.73,95.76 L574.39,91.28 L603.54,86.8 L625.96,84.56 L648.38,80.08 L670.8,75.6 L670.8,75.6 L668.56,80.08 L659.59,95.76 L648.38,106.96 L625.96,119.28 L604.21,132.94 L586.95,138.77 L557.58,145.94 L528.43,154.67 L513.86,159.15 L499.29,168.11 L484.71,187.6 L469.92,212.24 L455.57,227.92 L446.6,236.21Z" fill="#96c3d7" fill-opacity="0.17"/>
<path d="M446.6,94.19 L463.19,81.87 L468.35,81.87 L473.06,75.6 L670.8,75.6 L670.8,75.6 L664.07,86.8 L655.11,94.64 L581.12,94.64 L576.64,105.62 L549.73,106.51 L518.34,106.51 L504.22,113.68 L493.68,120.4 L481.58,130.03 L469.02,154 L454.45,162.96 L446.6,162.96Z" fill="#ea9066" fill-opacity="0.2"/>
<line x1="446.6" y1="299.6" x2="670.8" y2="75.6" stroke="#686868" stroke-width="1.8" stroke-dasharray="6.3 6.1"/>
<path d="M446.6,299.6 L446.6,206.3 L454.45,206.3 L454.45,181.1 L462.23,181.1 L462.23,156.69 L486.51,156.69 L486.51,137.65 L494.35,137.65 L494.35,125.78 L518.57,125.78 L518.57,119.5 L566.55,119.5 L566.55,113.01 L574.62,113.01 L574.62,106.74 L599.06,106.74 L599.06,100.46 L607.13,100.46 L607.13,94.19 L614.75,94.19 L614.75,88.14 L646.7,88.14 L646.7,81.87 L654.88,81.87 L654.88,75.6 L670.8,75.6" fill="none" stroke="#57abbb" stroke-width="1.9" stroke-linejoin="miter"/>
<path d="M446.6,299.6 L446.6,131.6 L462.29,131.6 L462.29,106.74 L470.37,106.74 L470.37,100.69 L486.73,100.69 L486.73,94.42 L494.8,94.42 L494.8,87.92 L582.69,87.92 L582.69,81.87 L654.88,81.87 L654.88,75.6 L670.8,75.6" fill="none" stroke="#da5e4d" stroke-width="1.9" stroke-linejoin="miter"/>
</g>
<rect x="444.4" y="73.8" width="226.4" height="225.8" fill="none" stroke="#151515" stroke-width="1.5"/>
<line x1="439" y1="299.6" x2="444.4" y2="299.6" stroke="#141414" stroke-width="1.4"/>
<text x="434" y="304.05" font-family='"Liberation Sans", sans-serif' font-size="12.2" fill="#141414" text-anchor="end">0.0</text>
<line x1="446.6" y1="299.6" x2="446.6" y2="304.9" stroke="#141414" stroke-width="1.4"/>
<text x="446.6" y="320.1" font-family='"Liberation Sans", sans-serif' font-size="12.2" fill="#141414" text-anchor="middle">0.0</text>
<line x1="439" y1="254.8" x2="444.4" y2="254.8" stroke="#141414" stroke-width="1.4"/>
<text x="434" y="259.25" font-family='"Liberation Sans", sans-serif' font-size="12.2" fill="#141414" text-anchor="end">0.2</text>
<line x1="491.44" y1="299.6" x2="491.44" y2="304.9" stroke="#141414" stroke-width="1.4"/>
<text x="491.44" y="320.1" font-family='"Liberation Sans", sans-serif' font-size="12.2" fill="#141414" text-anchor="middle">0.2</text>
<line x1="439" y1="210" x2="444.4" y2="210" stroke="#141414" stroke-width="1.4"/>
<text x="434" y="214.45" font-family='"Liberation Sans", sans-serif' font-size="12.2" fill="#141414" text-anchor="end">0.4</text>
<line x1="536.28" y1="299.6" x2="536.28" y2="304.9" stroke="#141414" stroke-width="1.4"/>
<text x="536.28" y="320.1" font-family='"Liberation Sans", sans-serif' font-size="12.2" fill="#141414" text-anchor="middle">0.4</text>
<line x1="439" y1="165.2" x2="444.4" y2="165.2" stroke="#141414" stroke-width="1.4"/>
<text x="434" y="169.65" font-family='"Liberation Sans", sans-serif' font-size="12.2" fill="#141414" text-anchor="end">0.6</text>
<line x1="581.12" y1="299.6" x2="581.12" y2="304.9" stroke="#141414" stroke-width="1.4"/>
<text x="581.12" y="320.1" font-family='"Liberation Sans", sans-serif' font-size="12.2" fill="#141414" text-anchor="middle">0.6</text>
<line x1="439" y1="120.4" x2="444.4" y2="120.4" stroke="#141414" stroke-width="1.4"/>
<text x="434" y="124.85" font-family='"Liberation Sans", sans-serif' font-size="12.2" fill="#141414" text-anchor="end">0.8</text>
<line x1="625.96" y1="299.6" x2="625.96" y2="304.9" stroke="#141414" stroke-width="1.4"/>
<text x="625.96" y="320.1" font-family='"Liberation Sans", sans-serif' font-size="12.2" fill="#141414" text-anchor="middle">0.8</text>
<line x1="439" y1="75.6" x2="444.4" y2="75.6" stroke="#141414" stroke-width="1.4"/>
<text x="434" y="80.05" font-family='"Liberation Sans", sans-serif' font-size="12.2" fill="#141414" text-anchor="end">1.0</text>
<line x1="670.8" y1="299.6" x2="670.8" y2="304.9" stroke="#141414" stroke-width="1.4"/>
<text x="670.8" y="320.1" font-family='"Liberation Sans", sans-serif' font-size="12.2" fill="#141414" text-anchor="middle">1.0</text>
<text x="558.2" y="67.4" font-family='"Liberation Sans", sans-serif' font-size="14.4" fill="#141414" text-anchor="middle">GSE57338&#8722;test</text>
<text x="558.4" y="337.9" font-family='"Liberation Sans", sans-serif' font-size="14.4" fill="#141414" text-anchor="middle">1&#8722;Specificity (FPR)</text>
<text transform="translate(408.5,186.7) rotate(-90)" font-family='"Liberation Sans", sans-serif' font-size="14.6" fill="#141414" text-anchor="middle">Sensitivity (TPR)</text>
<line x1="526.8" y1="275.6" x2="538.5" y2="275.6" stroke="#57abbb" stroke-width="1.7"/>
<line x1="526.8" y1="289.7" x2="538.5" y2="289.7" stroke="#da5e4d" stroke-width="1.7"/>
<text x="545.6" y="279.9" font-family='"Liberation Sans", sans-serif' font-size="12.4" fill="#141414">RSAD2 (AUC = 0.812)</text>
<text x="545.6" y="294.3" font-family='"Liberation Sans", sans-serif' font-size="12.4" fill="#141414">IFI44L (AUC = 0.936)</text>
<text transform="translate(3.4,370.6) scale(0.94,1)" font-family='"Liberation Serif", serif' font-weight="bold" font-style="italic" font-size="25.5" fill="#111">C</text>
<clipPath id="clipC"><rect x="94.7" y="399.9" width="226.7" height="225.8"/></clipPath>
<g clip-path="url(#clipC)">
<line x1="96.9" y1="399.9" x2="96.9" y2="625.7" stroke="#e7e3e1" stroke-width="1.5"/>
<line x1="94.7" y1="625.7" x2="321.4" y2="625.7" stroke="#e7e3e1" stroke-width="1.5"/>
<line x1="119.35" y1="399.9" x2="119.35" y2="625.7" stroke="#e7e3e1" stroke-width="1.5"/>
<line x1="94.7" y1="603.3" x2="321.4" y2="603.3" stroke="#e7e3e1" stroke-width="1.5"/>
<line x1="141.8" y1="399.9" x2="141.8" y2="625.7" stroke="#e7e3e1" stroke-width="1.5"/>
<line x1="94.7" y1="580.9" x2="321.4" y2="580.9" stroke="#e7e3e1" stroke-width="1.5"/>
<line x1="164.25" y1="399.9" x2="164.25" y2="625.7" stroke="#e7e3e1" stroke-width="1.5"/>
<line x1="94.7" y1="558.5" x2="321.4" y2="558.5" stroke="#e7e3e1" stroke-width="1.5"/>
<line x1="186.7" y1="399.9" x2="186.7" y2="625.7" stroke="#e7e3e1" stroke-width="1.5"/>
<line x1="94.7" y1="536.1" x2="321.4" y2="536.1" stroke="#e7e3e1" stroke-width="1.5"/>
<line x1="209.15" y1="399.9" x2="209.15" y2="625.7" stroke="#e7e3e1" stroke-width="1.5"/>
<line x1="94.7" y1="513.7" x2="321.4" y2="513.7" stroke="#e7e3e1" stroke-width="1.5"/>
<line x1="231.6" y1="399.9" x2="231.6" y2="625.7" stroke="#e7e3e1" stroke-width="1.5"/>
<line x1="94.7" y1="491.3" x2="321.4" y2="491.3" stroke="#e7e3e1" stroke-width="1.5"/>
<line x1="254.05" y1="399.9" x2="254.05" y2="625.7" stroke="#e7e3e1" stroke-width="1.5"/>
<line x1="94.7" y1="468.9" x2="321.4" y2="468.9" stroke="#e7e3e1" stroke-width="1.5"/>
<line x1="276.5" y1="399.9" x2="276.5" y2="625.7" stroke="#e7e3e1" stroke-width="1.5"/>
<line x1="94.7" y1="446.5" x2="321.4" y2="446.5" stroke="#e7e3e1" stroke-width="1.5"/>
<line x1="298.95" y1="399.9" x2="298.95" y2="625.7" stroke="#e7e3e1" stroke-width="1.5"/>
<line x1="94.7" y1="424.1" x2="321.4" y2="424.1" stroke="#e7e3e1" stroke-width="1.5"/>
<line x1="321.4" y1="399.9" x2="321.4" y2="625.7" stroke="#e7e3e1" stroke-width="1.5"/>
<line x1="94.7" y1="401.7" x2="321.4" y2="401.7" stroke="#e7e3e1" stroke-width="1.5"/>
<path d="M96.9,520.42 L110.37,519.08 L113.06,495.78 L119.35,495.78 L123.84,448.74 L138.21,446.5 L141.8,433.06 L153.03,424.1 L164.25,417.38 L186.7,408.42 L209.15,401.7 L321.4,401.7 L321.4,401.7 L307.93,408.42 L294.46,411.33 L279.87,416.04 L274.25,424.1 L262.13,430.82 L254.05,437.54 L250.91,444.26 L236.09,448.74 L230.03,464.42 L220.38,486.82 L206.9,500.26 L197.93,520.42 L181.99,531.62 L170.99,544.39 L166.5,558.5 L142.92,560.74 L140.68,614.5 L135.06,618.98 L96.9,623.46Z" fill="#96c3d7" fill-opacity="0.17"/>
<path d="M96.9,435.3 L107.45,435.3 L112.62,417.38 L119.35,416.93 L121.59,411.78 L141.8,410.66 L144.04,406.18 L164.25,405.06 L186.7,401.7 L321.4,401.7 L321.4,403.94 L298.95,407.3 L276.5,409.54 L254.05,411.78 L236.09,414.47 L224.86,416.04 L213.64,420.74 L202.41,425.67 L195.68,432.16 L191.19,439.78 L178.84,446.5 L170.99,454.56 L166.05,467.33 L166.05,580.9 L164.25,583.14 L153.03,585.38 L148.53,595.46 L140.68,597.7 L135.96,610.24 L123.17,611.36 L111.49,614.95 L96.9,617.19Z" fill="#ea9066" fill-opacity="0.2"/>
<line x1="96.9" y1="625.7" x2="321.4" y2="401.7" stroke="#686868" stroke-width="1.8" stroke-dasharray="6.3 6.1"/>
<path d="M96.9,625.7 L96.9,610.92 L111.04,610.92 L111.04,559.4 L124.96,559.4 L124.96,541.03 L139.56,541.03 L139.56,515.94 L167.17,515.94 L167.17,468.23 L181.09,468.23 L181.09,443.81 L209.15,443.81 L209.15,426.56 L223.29,426.56 L223.29,420.74 L237.89,420.74 L237.89,406.4 L293.34,406.4 L293.34,401.7 L321.4,401.7" fill="none" stroke="#57abbb" stroke-width="1.9" stroke-linejoin="miter"/>
<path d="M96.9,625.7 L96.9,608.68 L111.04,608.68 L111.04,584.26 L124.96,584.26 L124.96,445.83 L139.11,445.83 L139.11,439.11 L153.03,439.11 L153.03,420.74 L167.17,420.74 L167.17,414.47 L181.09,414.47 L181.09,409.99 L195.01,409.99 L195.01,408.2 L251.58,408.2 L251.58,403.94 L321.4,403.94" fill="none" stroke="#da5e4d" stroke-width="1.9" stroke-linejoin="miter"/>
</g>
<rect x="94.7" y="399.9" width="226.7" height="225.8" fill="none" stroke="#151515" stroke-width="1.5"/>
<line x1="89.3" y1="625.7" x2="94.7" y2="625.7" stroke="#141414" stroke-width="1.4"/>
<text x="84.3" y="630.15" font-family='"Liberation Sans", sans-serif' font-size="12.2" fill="#141414" text-anchor="end">0.0</text>
<line x1="96.9" y1="625.7" x2="96.9" y2="631" stroke="#141414" stroke-width="1.4"/>
<text x="96.9" y="646.2" font-family='"Liberation Sans", sans-serif' font-size="12.2" fill="#141414" text-anchor="middle">0.0</text>
<line x1="89.3" y1="580.9" x2="94.7" y2="580.9" stroke="#141414" stroke-width="1.4"/>
<text x="84.3" y="585.35" font-family='"Liberation Sans", sans-serif' font-size="12.2" fill="#141414" text-anchor="end">0.2</text>
<line x1="141.8" y1="625.7" x2="141.8" y2="631" stroke="#141414" stroke-width="1.4"/>
<text x="141.8" y="646.2" font-family='"Liberation Sans", sans-serif' font-size="12.2" fill="#141414" text-anchor="middle">0.2</text>
<line x1="89.3" y1="536.1" x2="94.7" y2="536.1" stroke="#141414" stroke-width="1.4"/>
<text x="84.3" y="540.55" font-family='"Liberation Sans", sans-serif' font-size="12.2" fill="#141414" text-anchor="end">0.4</text>
<line x1="186.7" y1="625.7" x2="186.7" y2="631" stroke="#141414" stroke-width="1.4"/>
<text x="186.7" y="646.2" font-family='"Liberation Sans", sans-serif' font-size="12.2" fill="#141414" text-anchor="middle">0.4</text>
<line x1="89.3" y1="491.3" x2="94.7" y2="491.3" stroke="#141414" stroke-width="1.4"/>
<text x="84.3" y="495.75" font-family='"Liberation Sans", sans-serif' font-size="12.2" fill="#141414" text-anchor="end">0.6</text>
<line x1="231.6" y1="625.7" x2="231.6" y2="631" stroke="#141414" stroke-width="1.4"/>
<text x="231.6" y="646.2" font-family='"Liberation Sans", sans-serif' font-size="12.2" fill="#141414" text-anchor="middle">0.6</text>
<line x1="89.3" y1="446.5" x2="94.7" y2="446.5" stroke="#141414" stroke-width="1.4"/>
<text x="84.3" y="450.95" font-family='"Liberation Sans", sans-serif' font-size="12.2" fill="#141414" text-anchor="end">0.8</text>
<line x1="276.5" y1="625.7" x2="276.5" y2="631" stroke="#141414" stroke-width="1.4"/>
<text x="276.5" y="646.2" font-family='"Liberation Sans", sans-serif' font-size="12.2" fill="#141414" text-anchor="middle">0.8</text>
<line x1="89.3" y1="401.7" x2="94.7" y2="401.7" stroke="#141414" stroke-width="1.4"/>
<text x="84.3" y="406.15" font-family='"Liberation Sans", sans-serif' font-size="12.2" fill="#141414" text-anchor="end">1.0</text>
<line x1="321.4" y1="625.7" x2="321.4" y2="631" stroke="#141414" stroke-width="1.4"/>
<text x="321.4" y="646.2" font-family='"Liberation Sans", sans-serif' font-size="12.2" fill="#141414" text-anchor="middle">1.0</text>
<text x="208.65" y="393.5" font-family='"Liberation Sans", sans-serif' font-size="14.4" fill="#141414" text-anchor="middle">GSE5406</text>
<text x="208.85" y="664" font-family='"Liberation Sans", sans-serif' font-size="14.4" fill="#141414" text-anchor="middle">1&#8722;Specificity (FPR)</text>
<text transform="translate(58.8,512.8) rotate(-90)" font-family='"Liberation Sans", sans-serif' font-size="14.6" fill="#141414" text-anchor="middle">Sensitivity (TPR)</text>
<line x1="177.1" y1="601.7" x2="188.8" y2="601.7" stroke="#57abbb" stroke-width="1.7"/>
<line x1="177.1" y1="615.8" x2="188.8" y2="615.8" stroke="#da5e4d" stroke-width="1.7"/>
<text x="195.9" y="606" font-family='"Liberation Sans", sans-serif' font-size="12.4" fill="#141414">RSAD2 (AUC = 0.736)</text>
<text x="195.9" y="620.4" font-family='"Liberation Sans", sans-serif' font-size="12.4" fill="#141414">IFI44L (AUC = 0.848)</text>
<text transform="translate(362.6,370.7) scale(0.94,1)" font-family='"Liberation Serif", serif' font-weight="bold" font-style="italic" font-size="25.5" fill="#111">D</text>
<clipPath id="clipD"><rect x="444.4" y="399.9" width="226.4" height="225.8"/></clipPath>
<g clip-path="url(#clipD)">
<line x1="446.6" y1="399.9" x2="446.6" y2="625.7" stroke="#e7e3e1" stroke-width="1.5"/>
<line x1="444.4" y1="625.7" x2="670.8" y2="625.7" stroke="#e7e3e1" stroke-width="1.5"/>
<line x1="469.02" y1="399.9" x2="469.02" y2="625.7" stroke="#e7e3e1" stroke-width="1.5"/>
<line x1="444.4" y1="603.3" x2="670.8" y2="603.3" stroke="#e7e3e1" stroke-width="1.5"/>
<line x1="491.44" y1="399.9" x2="491.44" y2="625.7" stroke="#e7e3e1" stroke-width="1.5"/>
<line x1="444.4" y1="580.9" x2="670.8" y2="580.9" stroke="#e7e3e1" stroke-width="1.5"/>
<line x1="513.86" y1="399.9" x2="513.86" y2="625.7" stroke="#e7e3e1" stroke-width="1.5"/>
<line x1="444.4" y1="558.5" x2="670.8" y2="558.5" stroke="#e7e3e1" stroke-width="1.5"/>
<line x1="536.28" y1="399.9" x2="536.28" y2="625.7" stroke="#e7e3e1" stroke-width="1.5"/>
<line x1="444.4" y1="536.1" x2="670.8" y2="536.1" stroke="#e7e3e1" stroke-width="1.5"/>
<line x1="558.7" y1="399.9" x2="558.7" y2="625.7" stroke="#e7e3e1" stroke-width="1.5"/>
<line x1="444.4" y1="513.7" x2="670.8" y2="513.7" stroke="#e7e3e1" stroke-width="1.5"/>
<line x1="581.12" y1="399.9" x2="581.12" y2="625.7" stroke="#e7e3e1" stroke-width="1.5"/>
<line x1="444.4" y1="491.3" x2="670.8" y2="491.3" stroke="#e7e3e1" stroke-width="1.5"/>
<line x1="603.54" y1="399.9" x2="603.54" y2="625.7" stroke="#e7e3e1" stroke-width="1.5"/>
<line x1="444.4" y1="468.9" x2="670.8" y2="468.9" stroke="#e7e3e1" stroke-width="1.5"/>
<line x1="625.96" y1="399.9" x2="625.96" y2="625.7" stroke="#e7e3e1" stroke-width="1.5"/>
<line x1="444.4" y1="446.5" x2="670.8" y2="446.5" stroke="#e7e3e1" stroke-width="1.5"/>
<line x1="648.38" y1="399.9" x2="648.38" y2="625.7" stroke="#e7e3e1" stroke-width="1.5"/>
<line x1="444.4" y1="424.1" x2="670.8" y2="424.1" stroke="#e7e3e1" stroke-width="1.5"/>
<line x1="670.8" y1="399.9" x2="670.8" y2="625.7" stroke="#e7e3e1" stroke-width="1.5"/>
<line x1="444.4" y1="401.7" x2="670.8" y2="401.7" stroke="#e7e3e1" stroke-width="1.5"/>
<path d="M446.6,471.14 L457.81,464.42 L469.02,456.36 L483.82,448.74 L501.3,446.5 L518.34,439.78 L536.28,437.54 L549.96,434.18 L586.5,426.34 L604.66,422.31 L625.96,409.54 L641.21,406.18 L652.86,402.15 L670.8,401.7 L670.8,401.7 L668.56,431.49 L659.59,446.5 L641.21,449.64 L623.05,455.24 L604.66,462.18 L586.5,468 L549.96,471.59 L536.28,482.34 L513.86,491.3 L491.44,500.26 L469.02,513.7 L457.81,524.9 L446.6,547.3Z" fill="#96c3d7" fill-opacity="0.17"/>
<path d="M446.6,498.02 L457.81,495.78 L469.02,486.82 L483.82,480.77 L501.3,473.83 L518.34,468.9 L536.28,462.18 L549.96,455.24 L586.5,449.64 L623.05,442.47 L641.21,435.3 L659.59,427.91 L666.32,413.35 L668.56,401.7 L670.8,401.7 L670.8,401.7 L668.56,413.35 L666.32,464.42 L659.59,471.14 L641.21,473.38 L623.05,480.1 L604.66,484.58 L586.5,489.73 L568.34,493.54 L549.96,498.92 L536.28,508.1 L514.76,515.27 L503.1,523.33 L491.44,526.69 L480.9,533.64 L469.24,543.04 L457.81,549.54 L446.6,558.5Z" fill="#ea9066" fill-opacity="0.2"/>
<line x1="446.6" y1="625.7" x2="670.8" y2="401.7" stroke="#686868" stroke-width="1.8" stroke-dasharray="6.3 6.1"/>
<path d="M446.6,625.7 L446.6,528.71 L455.34,528.71 L455.34,490.18 L473.28,490.18 L473.28,477.41 L482.02,477.41 L482.02,473.83 L491.22,473.83 L491.22,466.88 L500.41,466.88 L500.41,465.09 L517.9,465.09 L517.9,463.3 L527.09,463.3 L527.09,461.51 L536.06,461.51 L536.06,451.43 L553.54,451.43 L553.54,449.19 L599.28,449.19 L599.28,443.81 L608.02,443.81 L608.02,440.68 L626.18,440.68 L626.18,437.09 L635.38,437.09 L635.38,433.28 L644.34,433.28 L644.34,423.2 L653.09,423.2 L653.09,410.44 L670.8,410.44" fill="none" stroke="#57abbb" stroke-width="1.9" stroke-linejoin="miter"/>
<path d="M446.6,625.7 L446.6,540.8 L455.34,540.8 L455.34,517.6 L473.28,517.6 L473.28,505.64 L491.22,505.64 L491.22,500.04 L500.41,500.04 L500.41,495.11 L510.05,495.11 L510.05,493.09 L517.9,493.09 L517.9,484.58 L527.09,484.58 L527.09,480.77 L536.06,480.77 L536.06,478.98 L545.02,478.98 L545.02,475.84 L553.54,475.84 L553.54,473.83 L563.63,473.83 L563.63,472.71 L581.34,472.71 L581.34,468.45 L626.18,468.45 L626.18,463.3 L635.38,463.3 L635.38,461.51 L644.34,461.51 L644.34,453 L653.09,453 L653.09,446.05 L661.61,446.05 L661.61,440.23 L670.8,440.23" fill="none" stroke="#da5e4d" stroke-width="1.9" stroke-linejoin="miter"/>
</g>
<rect x="444.4" y="399.9" width="226.4" height="225.8" fill="none" stroke="#151515" stroke-width="1.5"/>
<line x1="439" y1="625.7" x2="444.4" y2="625.7" stroke="#141414" stroke-width="1.4"/>
<text x="434" y="630.15" font-family='"Liberation Sans", sans-serif' font-size="12.2" fill="#141414" text-anchor="end">0.0</text>
<line x1="446.6" y1="625.7" x2="446.6" y2="631" stroke="#141414" stroke-width="1.4"/>
<text x="446.6" y="646.2" font-family='"Liberation Sans", sans-serif' font-size="12.2" fill="#141414" text-anchor="middle">0.0</text>
<line x1="439" y1="580.9" x2="444.4" y2="580.9" stroke="#141414" stroke-width="1.4"/>
<text x="434" y="585.35" font-family='"Liberation Sans", sans-serif' font-size="12.2" fill="#141414" text-anchor="end">0.2</text>
<line x1="491.44" y1="625.7" x2="491.44" y2="631" stroke="#141414" stroke-width="1.4"/>
<text x="491.44" y="646.2" font-family='"Liberation Sans", sans-serif' font-size="12.2" fill="#141414" text-anchor="middle">0.2</text>
<line x1="439" y1="536.1" x2="444.4" y2="536.1" stroke="#141414" stroke-width="1.4"/>
<text x="434" y="540.55" font-family='"Liberation Sans", sans-serif' font-size="12.2" fill="#141414" text-anchor="end">0.4</text>
<line x1="536.28" y1="625.7" x2="536.28" y2="631" stroke="#141414" stroke-width="1.4"/>
<text x="536.28" y="646.2" font-family='"Liberation Sans", sans-serif' font-size="12.2" fill="#141414" text-anchor="middle">0.4</text>
<line x1="439" y1="491.3" x2="444.4" y2="491.3" stroke="#141414" stroke-width="1.4"/>
<text x="434" y="495.75" font-family='"Liberation Sans", sans-serif' font-size="12.2" fill="#141414" text-anchor="end">0.6</text>
<line x1="581.12" y1="625.7" x2="581.12" y2="631" stroke="#141414" stroke-width="1.4"/>
<text x="581.12" y="646.2" font-family='"Liberation Sans", sans-serif' font-size="12.2" fill="#141414" text-anchor="middle">0.6</text>
<line x1="439" y1="446.5" x2="444.4" y2="446.5" stroke="#141414" stroke-width="1.4"/>
<text x="434" y="450.95" font-family='"Liberation Sans", sans-serif' font-size="12.2" fill="#141414" text-anchor="end">0.8</text>
<line x1="625.96" y1="625.7" x2="625.96" y2="631" stroke="#141414" stroke-width="1.4"/>
<text x="625.96" y="646.2" font-family='"Liberation Sans", sans-serif' font-size="12.2" fill="#141414" text-anchor="middle">0.8</text>
<line x1="439" y1="401.7" x2="444.4" y2="401.7" stroke="#141414" stroke-width="1.4"/>
<text x="434" y="406.15" font-family='"Liberation Sans", sans-serif' font-size="12.2" fill="#141414" text-anchor="end">1.0</text>
<line x1="670.8" y1="625.7" x2="670.8" y2="631" stroke="#141414" stroke-width="1.4"/>
<text x="670.8" y="646.2" font-family='"Liberation Sans", sans-serif' font-size="12.2" fill="#141414" text-anchor="middle">1.0</text>
<text x="558.2" y="393.5" font-family='"Liberation Sans", sans-serif' font-size="14.4" fill="#141414" text-anchor="middle">GSE185576&#8722;influenza</text>
<text x="558.4" y="664" font-family='"Liberation Sans", sans-serif' font-size="14.4" fill="#141414" text-anchor="middle">1&#8722;Specificity (FPR)</text>
<text transform="translate(408.5,512.8) rotate(-90)" font-family='"Liberation Sans", sans-serif' font-size="14.6" fill="#141414" text-anchor="middle">Sensitivity (TPR)</text>
<line x1="526.8" y1="601.7" x2="538.5" y2="601.7" stroke="#57abbb" stroke-width="1.7"/>
<line x1="526.8" y1="615.8" x2="538.5" y2="615.8" stroke="#da5e4d" stroke-width="1.7"/>
<text x="545.6" y="606" font-family='"Liberation Sans", sans-serif' font-size="12.4" fill="#141414">RSAD2 (AUC = 0.763)</text>
<text x="545.6" y="620.4" font-family='"Liberation Sans", sans-serif' font-size="12.4" fill="#141414">IFI44L (AUC = 0.646)</text>
<text transform="translate(2.1,696.7) scale(0.94,1)" font-family='"Liberation Serif", serif' font-weight="bold" font-style="italic" font-size="25.5" fill="#111">E</text>
<clipPath id="clipE"><rect x="94.7" y="726" width="226.7" height="225.4"/></clipPath>
<g clip-path="url(#clipE)">
<line x1="96.9" y1="726" x2="96.9" y2="951.4" stroke="#e7e3e1" stroke-width="1.5"/>
<line x1="94.7" y1="951.4" x2="321.4" y2="951.4" stroke="#e7e3e1" stroke-width="1.5"/>
<line x1="119.35" y1="726" x2="119.35" y2="951.4" stroke="#e7e3e1" stroke-width="1.5"/>
<line x1="94.7" y1="929.04" x2="321.4" y2="929.04" stroke="#e7e3e1" stroke-width="1.5"/>
<line x1="141.8" y1="726" x2="141.8" y2="951.4" stroke="#e7e3e1" stroke-width="1.5"/>
<line x1="94.7" y1="906.68" x2="321.4" y2="906.68" stroke="#e7e3e1" stroke-width="1.5"/>
<line x1="164.25" y1="726" x2="164.25" y2="951.4" stroke="#e7e3e1" stroke-width="1.5"/>
<line x1="94.7" y1="884.32" x2="321.4" y2="884.32" stroke="#e7e3e1" stroke-width="1.5"/>
<line x1="186.7" y1="726" x2="186.7" y2="951.4" stroke="#e7e3e1" stroke-width="1.5"/>
<line x1="94.7" y1="861.96" x2="321.4" y2="861.96" stroke="#e7e3e1" stroke-width="1.5"/>
<line x1="209.15" y1="726" x2="209.15" y2="951.4" stroke="#e7e3e1" stroke-width="1.5"/>
<line x1="94.7" y1="839.6" x2="321.4" y2="839.6" stroke="#e7e3e1" stroke-width="1.5"/>
<line x1="231.6" y1="726" x2="231.6" y2="951.4" stroke="#e7e3e1" stroke-width="1.5"/>
<line x1="94.7" y1="817.24" x2="321.4" y2="817.24" stroke="#e7e3e1" stroke-width="1.5"/>
<line x1="254.05" y1="726" x2="254.05" y2="951.4" stroke="#e7e3e1" stroke-width="1.5"/>
<line x1="94.7" y1="794.88" x2="321.4" y2="794.88" stroke="#e7e3e1" stroke-width="1.5"/>
<line x1="276.5" y1="726" x2="276.5" y2="951.4" stroke="#e7e3e1" stroke-width="1.5"/>
<line x1="94.7" y1="772.52" x2="321.4" y2="772.52" stroke="#e7e3e1" stroke-width="1.5"/>
<line x1="298.95" y1="726" x2="298.95" y2="951.4" stroke="#e7e3e1" stroke-width="1.5"/>
<line x1="94.7" y1="750.16" x2="321.4" y2="750.16" stroke="#e7e3e1" stroke-width="1.5"/>
<line x1="321.4" y1="726" x2="321.4" y2="951.4" stroke="#e7e3e1" stroke-width="1.5"/>
<line x1="94.7" y1="727.8" x2="321.4" y2="727.8" stroke="#e7e3e1" stroke-width="1.5"/>
<path d="M96.9,727.8 L321.4,727.8 L321.4,727.8 L231.6,727.8 L228.46,750.16 L193.44,750.16 L188.05,772.52 L140.9,772.52 L136.41,794.88 L96.9,794.88Z" fill="#96c3d7" fill-opacity="0.17"/>
<path d="M96.9,727.8 L321.4,727.8 L321.4,750.16 L319.15,783.7 L315.79,817.24 L274.25,817.24 L271.11,839.6 L141.35,839.6 L136.86,861.96 L96.9,861.96Z" fill="#ea9066" fill-opacity="0.2"/>
<line x1="96.9" y1="951.4" x2="321.4" y2="727.8" stroke="#686868" stroke-width="1.8" stroke-dasharray="6.3 6.1"/>
<path d="M96.9,951.4 L96.9,750.16 L141.8,750.16 L141.8,727.8 L321.4,727.8" fill="none" stroke="#57abbb" stroke-width="1.9" stroke-linejoin="miter"/>
<path d="M96.9,951.4 L96.9,794.88 L141.8,794.88 L141.8,772.52 L276.5,772.52 L276.5,750.16 L321.4,750.16" fill="none" stroke="#da5e4d" stroke-width="1.9" stroke-linejoin="miter"/>
</g>
<rect x="94.7" y="726" width="226.7" height="225.4" fill="none" stroke="#151515" stroke-width="1.5"/>
<line x1="89.3" y1="951.4" x2="94.7" y2="951.4" stroke="#141414" stroke-width="1.4"/>
<text x="84.3" y="955.85" font-family='"Liberation Sans", sans-serif' font-size="12.2" fill="#141414" text-anchor="end">0.0</text>
<line x1="96.9" y1="951.4" x2="96.9" y2="956.7" stroke="#141414" stroke-width="1.4"/>
<text x="96.9" y="971.9" font-family='"Liberation Sans", sans-serif' font-size="12.2" fill="#141414" text-anchor="middle">0.0</text>
<line x1="89.3" y1="906.68" x2="94.7" y2="906.68" stroke="#141414" stroke-width="1.4"/>
<text x="84.3" y="911.13" font-family='"Liberation Sans", sans-serif' font-size="12.2" fill="#141414" text-anchor="end">0.2</text>
<line x1="141.8" y1="951.4" x2="141.8" y2="956.7" stroke="#141414" stroke-width="1.4"/>
<text x="141.8" y="971.9" font-family='"Liberation Sans", sans-serif' font-size="12.2" fill="#141414" text-anchor="middle">0.2</text>
<line x1="89.3" y1="861.96" x2="94.7" y2="861.96" stroke="#141414" stroke-width="1.4"/>
<text x="84.3" y="866.41" font-family='"Liberation Sans", sans-serif' font-size="12.2" fill="#141414" text-anchor="end">0.4</text>
<line x1="186.7" y1="951.4" x2="186.7" y2="956.7" stroke="#141414" stroke-width="1.4"/>
<text x="186.7" y="971.9" font-family='"Liberation Sans", sans-serif' font-size="12.2" fill="#141414" text-anchor="middle">0.4</text>
<line x1="89.3" y1="817.24" x2="94.7" y2="817.24" stroke="#141414" stroke-width="1.4"/>
<text x="84.3" y="821.69" font-family='"Liberation Sans", sans-serif' font-size="12.2" fill="#141414" text-anchor="end">0.6</text>
<line x1="231.6" y1="951.4" x2="231.6" y2="956.7" stroke="#141414" stroke-width="1.4"/>
<text x="231.6" y="971.9" font-family='"Liberation Sans", sans-serif' font-size="12.2" fill="#141414" text-anchor="middle">0.6</text>
<line x1="89.3" y1="772.52" x2="94.7" y2="772.52" stroke="#141414" stroke-width="1.4"/>
<text x="84.3" y="776.97" font-family='"Liberation Sans", sans-serif' font-size="12.2" fill="#141414" text-anchor="end">0.8</text>
<line x1="276.5" y1="951.4" x2="276.5" y2="956.7" stroke="#141414" stroke-width="1.4"/>
<text x="276.5" y="971.9" font-family='"Liberation Sans", sans-serif' font-size="12.2" fill="#141414" text-anchor="middle">0.8</text>
<line x1="89.3" y1="727.8" x2="94.7" y2="727.8" stroke="#141414" stroke-width="1.4"/>
<text x="84.3" y="732.25" font-family='"Liberation Sans", sans-serif' font-size="12.2" fill="#141414" text-anchor="end">1.0</text>
<line x1="321.4" y1="951.4" x2="321.4" y2="956.7" stroke="#141414" stroke-width="1.4"/>
<text x="321.4" y="971.9" font-family='"Liberation Sans", sans-serif' font-size="12.2" fill="#141414" text-anchor="middle">1.0</text>
<text x="208.65" y="719.6" font-family='"Liberation Sans", sans-serif' font-size="14.4" fill="#141414" text-anchor="middle">GSE164805&#8722;COVID&#8722;19</text>
<text x="208.85" y="989.7" font-family='"Liberation Sans", sans-serif' font-size="14.4" fill="#141414" text-anchor="middle">1&#8722;Specificity (FPR)</text>
<text transform="translate(58.8,838.7) rotate(-90)" font-family='"Liberation Sans", sans-serif' font-size="14.6" fill="#141414" text-anchor="middle">Sensitivity (TPR)</text>
<line x1="177.1" y1="927.4" x2="188.8" y2="927.4" stroke="#57abbb" stroke-width="1.7"/>
<line x1="177.1" y1="941.5" x2="188.8" y2="941.5" stroke="#da5e4d" stroke-width="1.7"/>
<text x="195.9" y="931.7" font-family='"Liberation Sans", sans-serif' font-size="12.4" fill="#141414">RSAD2 (AUC = 0.980)</text>
<text x="195.9" y="946.1" font-family='"Liberation Sans", sans-serif' font-size="12.4" fill="#141414">IFI44L (AUC = 0.800)</text>
<text transform="translate(363.5,696.7) scale(0.94,1)" font-family='"Liberation Serif", serif' font-weight="bold" font-style="italic" font-size="25.5" fill="#111">F</text>
<clipPath id="clipF"><rect x="444.4" y="726" width="226.4" height="225.5"/></clipPath>
<g clip-path="url(#clipF)">
<line x1="446.6" y1="726" x2="446.6" y2="951.5" stroke="#e7e3e1" stroke-width="1.5"/>
<line x1="444.4" y1="951.5" x2="670.8" y2="951.5" stroke="#e7e3e1" stroke-width="1.5"/>
<line x1="469.02" y1="726" x2="469.02" y2="951.5" stroke="#e7e3e1" stroke-width="1.5"/>
<line x1="444.4" y1="929.13" x2="670.8" y2="929.13" stroke="#e7e3e1" stroke-width="1.5"/>
<line x1="491.44" y1="726" x2="491.44" y2="951.5" stroke="#e7e3e1" stroke-width="1.5"/>
<line x1="444.4" y1="906.76" x2="670.8" y2="906.76" stroke="#e7e3e1" stroke-width="1.5"/>
<line x1="513.86" y1="726" x2="513.86" y2="951.5" stroke="#e7e3e1" stroke-width="1.5"/>
<line x1="444.4" y1="884.39" x2="670.8" y2="884.39" stroke="#e7e3e1" stroke-width="1.5"/>
<line x1="536.28" y1="726" x2="536.28" y2="951.5" stroke="#e7e3e1" stroke-width="1.5"/>
<line x1="444.4" y1="862.02" x2="670.8" y2="862.02" stroke="#e7e3e1" stroke-width="1.5"/>
<line x1="558.7" y1="726" x2="558.7" y2="951.5" stroke="#e7e3e1" stroke-width="1.5"/>
<line x1="444.4" y1="839.65" x2="670.8" y2="839.65" stroke="#e7e3e1" stroke-width="1.5"/>
<line x1="581.12" y1="726" x2="581.12" y2="951.5" stroke="#e7e3e1" stroke-width="1.5"/>
<line x1="444.4" y1="817.28" x2="670.8" y2="817.28" stroke="#e7e3e1" stroke-width="1.5"/>
<line x1="603.54" y1="726" x2="603.54" y2="951.5" stroke="#e7e3e1" stroke-width="1.5"/>
<line x1="444.4" y1="794.91" x2="670.8" y2="794.91" stroke="#e7e3e1" stroke-width="1.5"/>
<line x1="625.96" y1="726" x2="625.96" y2="951.5" stroke="#e7e3e1" stroke-width="1.5"/>
<line x1="444.4" y1="772.54" x2="670.8" y2="772.54" stroke="#e7e3e1" stroke-width="1.5"/>
<line x1="648.38" y1="726" x2="648.38" y2="951.5" stroke="#e7e3e1" stroke-width="1.5"/>
<line x1="444.4" y1="750.17" x2="670.8" y2="750.17" stroke="#e7e3e1" stroke-width="1.5"/>
<line x1="670.8" y1="726" x2="670.8" y2="951.5" stroke="#e7e3e1" stroke-width="1.5"/>
<line x1="444.4" y1="727.8" x2="670.8" y2="727.8" stroke="#e7e3e1" stroke-width="1.5"/>
<path d="M446.6,765.16 L536.28,765.16 L539.64,727.8 L670.8,727.8 L670.8,727.8 L667.44,877.01 L623.72,877.01 L620.36,914.14 L446.6,914.14Z" fill="#96c3d7" fill-opacity="0.17"/>
<path d="M446.6,727.8 L670.8,727.8 L670.8,727.8 L668.56,772.54 L665.87,877.01 L446.6,877.01Z" fill="#ea9066" fill-opacity="0.2"/>
<line x1="446.6" y1="951.5" x2="670.8" y2="727.8" stroke="#686868" stroke-width="1.8" stroke-dasharray="6.3 6.1"/>
<path d="M446.6,951.5 L446.6,839.65 L581.12,839.65 L581.12,802.29 L625.96,802.29 L625.96,727.8 L670.8,727.8" fill="none" stroke="#57abbb" stroke-width="1.9" stroke-linejoin="miter"/>
<path d="M446.6,951.5 L446.6,802.29 L633.36,802.29 L633.36,727.8 L670.8,727.8" fill="none" stroke="#da5e4d" stroke-width="1.9" stroke-linejoin="miter"/>
</g>
<rect x="444.4" y="726" width="226.4" height="225.5" fill="none" stroke="#151515" stroke-width="1.5"/>
<line x1="439" y1="951.5" x2="444.4" y2="951.5" stroke="#141414" stroke-width="1.4"/>
<text x="434" y="955.95" font-family='"Liberation Sans", sans-serif' font-size="12.2" fill="#141414" text-anchor="end">0.0</text>
<line x1="446.6" y1="951.5" x2="446.6" y2="956.8" stroke="#141414" stroke-width="1.4"/>
<text x="446.6" y="972" font-family='"Liberation Sans", sans-serif' font-size="12.2" fill="#141414" text-anchor="middle">0.0</text>
<line x1="439" y1="906.76" x2="444.4" y2="906.76" stroke="#141414" stroke-width="1.4"/>
<text x="434" y="911.21" font-family='"Liberation Sans", sans-serif' font-size="12.2" fill="#141414" text-anchor="end">0.2</text>
<line x1="491.44" y1="951.5" x2="491.44" y2="956.8" stroke="#141414" stroke-width="1.4"/>
<text x="491.44" y="972" font-family='"Liberation Sans", sans-serif' font-size="12.2" fill="#141414" text-anchor="middle">0.2</text>
<line x1="439" y1="862.02" x2="444.4" y2="862.02" stroke="#141414" stroke-width="1.4"/>
<text x="434" y="866.47" font-family='"Liberation Sans", sans-serif' font-size="12.2" fill="#141414" text-anchor="end">0.4</text>
<line x1="536.28" y1="951.5" x2="536.28" y2="956.8" stroke="#141414" stroke-width="1.4"/>
<text x="536.28" y="972" font-family='"Liberation Sans", sans-serif' font-size="12.2" fill="#141414" text-anchor="middle">0.4</text>
<line x1="439" y1="817.28" x2="444.4" y2="817.28" stroke="#141414" stroke-width="1.4"/>
<text x="434" y="821.73" font-family='"Liberation Sans", sans-serif' font-size="12.2" fill="#141414" text-anchor="end">0.6</text>
<line x1="581.12" y1="951.5" x2="581.12" y2="956.8" stroke="#141414" stroke-width="1.4"/>
<text x="581.12" y="972" font-family='"Liberation Sans", sans-serif' font-size="12.2" fill="#141414" text-anchor="middle">0.6</text>
<line x1="439" y1="772.54" x2="444.4" y2="772.54" stroke="#141414" stroke-width="1.4"/>
<text x="434" y="776.99" font-family='"Liberation Sans", sans-serif' font-size="12.2" fill="#141414" text-anchor="end">0.8</text>
<line x1="625.96" y1="951.5" x2="625.96" y2="956.8" stroke="#141414" stroke-width="1.4"/>
<text x="625.96" y="972" font-family='"Liberation Sans", sans-serif' font-size="12.2" fill="#141414" text-anchor="middle">0.8</text>
<line x1="439" y1="727.8" x2="444.4" y2="727.8" stroke="#141414" stroke-width="1.4"/>
<text x="434" y="732.25" font-family='"Liberation Sans", sans-serif' font-size="12.2" fill="#141414" text-anchor="end">1.0</text>
<line x1="670.8" y1="951.5" x2="670.8" y2="956.8" stroke="#141414" stroke-width="1.4"/>
<text x="670.8" y="972" font-family='"Liberation Sans", sans-serif' font-size="12.2" fill="#141414" text-anchor="middle">1.0</text>
<text x="558.2" y="719.6" font-family='"Liberation Sans", sans-serif' font-size="14.4" fill="#141414" text-anchor="middle">GSE94916&#8722;CAP</text>
<text x="558.4" y="989.8" font-family='"Liberation Sans", sans-serif' font-size="14.4" fill="#141414" text-anchor="middle">1&#8722;Specificity (FPR)</text>
<text transform="translate(408.5,838.75) rotate(-90)" font-family='"Liberation Sans", sans-serif' font-size="14.6" fill="#141414" text-anchor="middle">Sensitivity (TPR)</text>
<line x1="526.8" y1="927.5" x2="538.5" y2="927.5" stroke="#57abbb" stroke-width="1.7"/>
<line x1="526.8" y1="941.6" x2="538.5" y2="941.6" stroke="#da5e4d" stroke-width="1.7"/>
<text x="545.6" y="931.8" font-family='"Liberation Sans", sans-serif' font-size="12.4" fill="#141414">RSAD2 (AUC = 0.633)</text>
<text x="545.6" y="946.2" font-family='"Liberation Sans", sans-serif' font-size="12.4" fill="#141414">IFI44L (AUC = 0.722)</text>
</svg></body></html>
